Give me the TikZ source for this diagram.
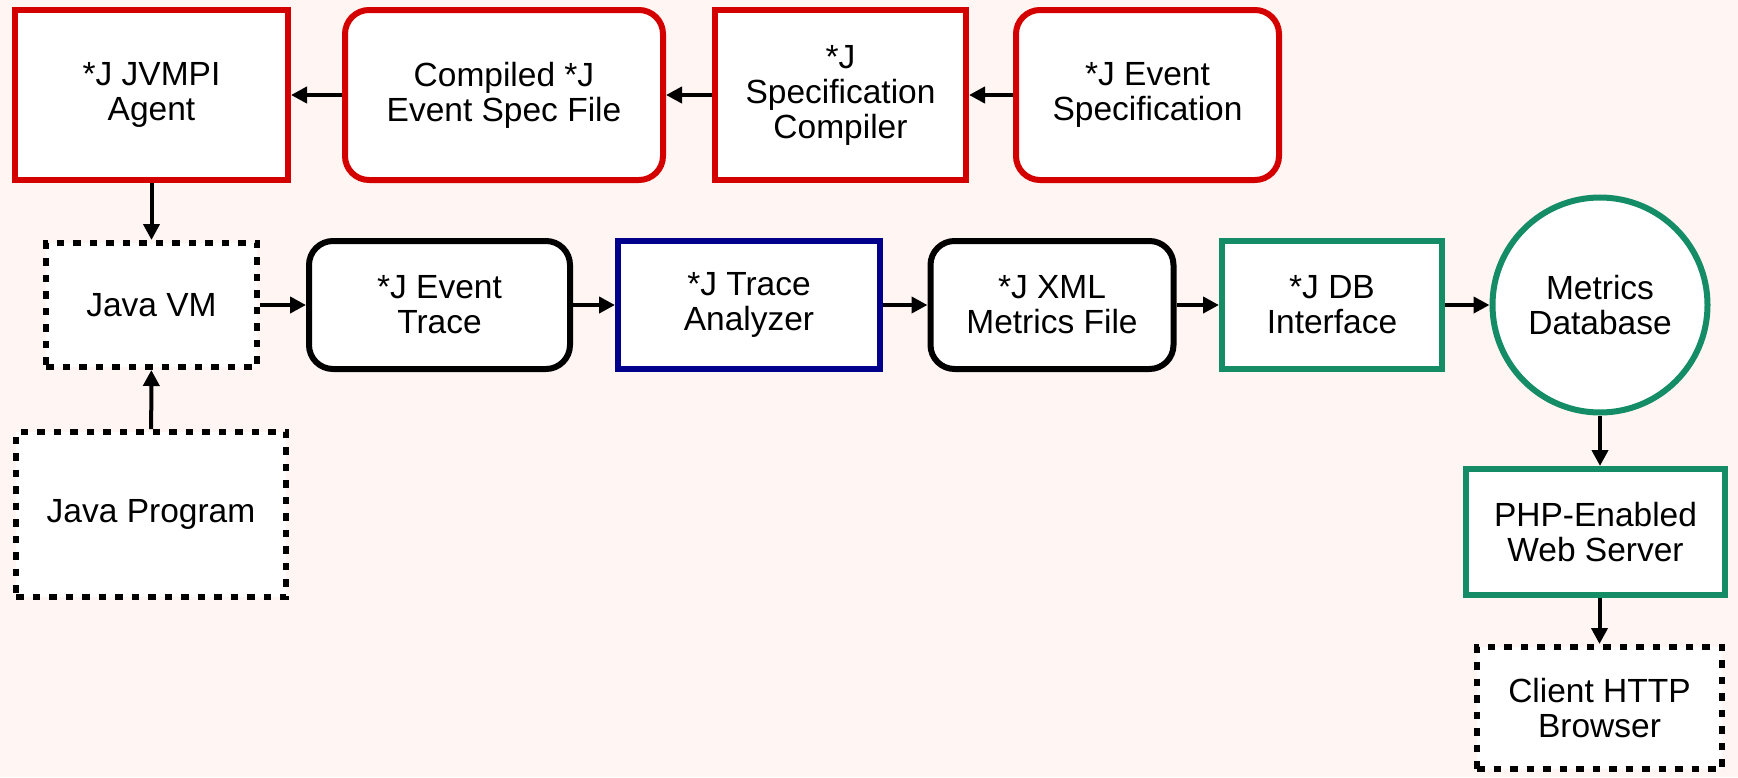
\documentclass[tikz,border=0pt]{standalone}
\usepackage{fontspec}
\setmainfont{Liberation Sans}
\usetikzlibrary{arrows.meta}
\definecolor{bgpink}{RGB}{255,245,243}
\definecolor{jred}{RGB}{212,0,0}
\definecolor{jblue}{RGB}{0,0,140}
\definecolor{jgreen}{RGB}{20,140,102}
\tikzset{
  box/.style={draw, fill=white, line width=6pt, align=center, inner sep=0pt,
    font=\fontsize{33.5}{35}\selectfont},
  rbox/.style={box, rounded corners=24pt},
  dbox/.style={box, line width=6pt, dash pattern=on 7.5pt off 9pt},
  arr/.style={-{Triangle[length=16pt,width=16pt]}, line width=4pt, draw=black}
}
\begin{document}
\begin{tikzpicture}[x=1pt,y=-1pt]
\fill[bgpink] (0,0) rectangle (1738,777);
\useasboundingbox (0,0) rectangle (1738,777);
% top row
\node[box, draw=jred, minimum width=273pt, minimum height=170pt] (jvmpi) at (151.5,95) {*J JVMPI\\Agent};
\node[rbox, draw=jred, minimum width=318pt, minimum height=170pt] (cspec) at (504,95) {Compiled *J\\Event Spec File};
\node[box, draw=jred, minimum width=251pt, minimum height=170pt] (comp) at (840.5,95) {*J\\Specification\\Compiler};
\node[rbox, draw=jred, minimum width=263pt, minimum height=170pt] (espec) at (1147.5,95) {*J Event\\Specification};
% middle row
\node[dbox, minimum width=211pt, minimum height=124pt] (jvm) at (151.5,305) {Java VM};
\node[rbox, draw=black, minimum width=261pt, minimum height=128pt] (trace) at (439.5,305) {*J Event\\Trace};
\node[box, draw=jblue, minimum width=262pt, minimum height=128pt] (ana) at (749,305) {*J Trace\\Analyzer};
\node[rbox, draw=black, minimum width=243pt, minimum height=128pt] (xml) at (1052,305) {*J XML\\Metrics File};
\node[box, draw=jgreen, minimum width=220pt, minimum height=128pt] (dbi) at (1332,305) {*J DB\\Interface};
\node[box, circle, draw=jgreen, minimum size=215pt] (db) at (1600,305) {Metrics\\Database};
% lower
\node[dbox, minimum width=270pt, minimum height=165pt] (jprog) at (151,514.5) {Java Program};
\node[box, draw=jgreen, minimum width=259pt, minimum height=126pt] (php) at (1595.5,532) {PHP-Enabled\\Web Server};
\node[dbox, minimum width=245pt, minimum height=122pt] (client) at (1599.5,708) {Client HTTP\\Browser};
% connectors
\draw[arr] (espec) -- (comp);
\draw[arr] (comp) -- (cspec);
\draw[arr] (cspec) -- (jvmpi);
\draw[arr] (jvmpi) -- (jvm);
\draw[arr] (jprog) -- (jvm);
\draw[arr] (jvm) -- (trace);
\draw[arr] (trace) -- (ana);
\draw[arr] (ana) -- (xml);
\draw[arr] (xml) -- (dbi);
\draw[arr] (dbi) -- (db);
\draw[arr] (db.south) -- (db.south |- php.north);
\draw[arr] (client.north |- php.south) -- (client.north);
\end{tikzpicture}
\end{document}
